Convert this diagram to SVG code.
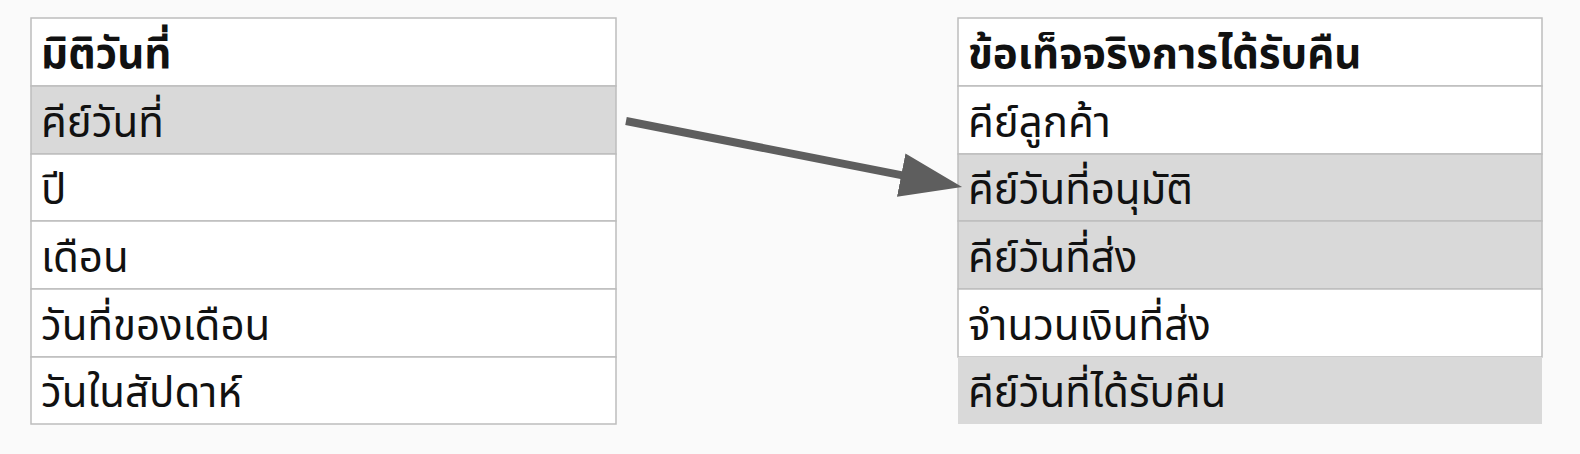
<svg xmlns="http://www.w3.org/2000/svg" width="1580" height="454" viewBox="0 0 1580 454">
<style>
.cell{stroke:#bdbdbd;stroke-width:1.5}
.w{fill:#ffffff}
.g{fill:#d9d9d9}
.t{font-family:"Noto Sans Thai","Noto Sans","DejaVu Sans",sans-serif;font-size:42px;fill:#111}
.h{font-weight:bold}
</style>
<defs>
<marker id="ah" markerUnits="userSpaceOnUse" markerWidth="64" markerHeight="44" refX="22" refY="22" orient="auto">
<path d="M0,0 L62,22 L0,44 Z" fill="#5e5e5e"/>
</marker>
</defs>
<rect width="1580" height="454" fill="#fafafa"/>
<g id="node-left">
<rect class="cell w" x="31" y="18" width="585" height="68"/>
<rect class="cell g" x="31" y="86" width="585" height="68"/>
<rect class="cell w" x="31" y="154" width="585" height="67"/>
<rect class="cell w" x="31" y="221" width="585" height="68"/>
<rect class="cell w" x="31" y="289" width="585" height="68"/>
<rect class="cell w" x="31" y="357" width="585" height="67"/>
<text class="t h" x="41" y="68">มิติวันที่</text>
<text class="t" x="41" y="137">คีย์วันที่</text>
<text class="t" x="41" y="204">ปี</text>
<text class="t" x="41" y="272">เดือน</text>
<text class="t" x="41" y="340">วันที่ของเดือน</text>
<text class="t" x="41" y="407">วันในสัปดาห์</text>
</g>
<g id="node-right">
<rect class="cell w" x="958" y="18" width="584" height="68"/>
<rect class="cell w" x="958" y="86" width="584" height="68"/>
<rect class="cell g" x="958" y="154" width="584" height="67"/>
<rect class="cell g" x="958" y="221" width="584" height="68"/>
<rect class="cell w" x="958" y="289" width="584" height="68"/>
<rect class="g" x="958" y="357" width="584" height="67"/>
<text class="t h" x="968" y="68">ข้อเท็จจริงการได้รับคืน</text>
<text class="t" x="968" y="137">คีย์ลูกค้า</text>
<text class="t" x="968" y="204">คีย์วันที่อนุมัติ</text>
<text class="t" x="968" y="272">คีย์วันที่ส่ง</text>
<text class="t" x="968" y="340">จำนวนเงินที่ส่ง</text>
<text class="t" x="968" y="407">คีย์วันที่ได้รับคืน</text>
</g>
<g id="connectors">
<line x1="626" y1="121" x2="922.8" y2="179.3" stroke="#5e5e5e" stroke-width="8" marker-end="url(#ah)"/>
</g>
</svg>
